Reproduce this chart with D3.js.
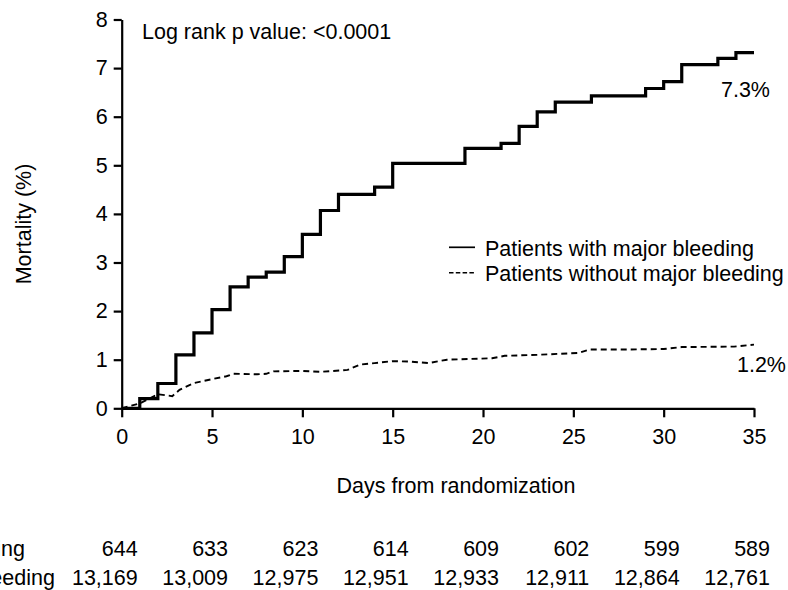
<!DOCTYPE html>
<meta charset="utf-8"/>
<style>
  body { margin: 0; background: #fff; }
  text { font-family: "Liberation Sans", Arial, Helvetica, sans-serif; fill: #000; }
</style>
<svg width="788" height="590"></svg>
<script src="https://cdn.jsdelivr.net/npm/d3@7"></script>
<script>

// data
var bleedDays   = [0, 1, 2, 3, 4, 5, 6, 7, 8, 9, 10, 11, 12, 14, 15, 19, 21, 22, 23, 24, 26, 29, 30, 31, 33, 34, 35]
var bleedMort   = [0, 0.2, 0.51, 1.1, 1.55, 2.03, 2.5, 2.7, 2.8, 3.12, 3.58, 4.07, 4.4, 4.55, 5.04, 5.35, 5.45, 5.8, 6.1, 6.3, 6.43, 6.58, 6.72, 7.07, 7.2, 7.32, 7.32]

var noBleedDays = [0, 1, 2, 2.8, 3.2, 4, 5, 5.8, 6.2, 7.5, 8, 8.4, 10, 11, 12.5, 13.2, 14, 15, 16, 17, 18, 20.5, 21.2, 23, 25.3, 25.9, 28, 30, 31, 33.9, 35]
var noBleedMort = [0, 0.1, 0.29, 0.25, 0.38, 0.52, 0.6, 0.66, 0.71, 0.7, 0.71, 0.76, 0.77, 0.75, 0.79, 0.9, 0.93, 0.97, 0.96, 0.93, 1.0, 1.03, 1.08, 1.1, 1.14, 1.21, 1.21, 1.22, 1.26, 1.27, 1.31]

var riskDays    = [0, 5, 10, 15, 20, 25, 30, 35]
var riskBleed   = ["644", "633", "623", "614", "609", "602", "599", "589"]
var riskNoBleed = ["13,169", "13,009", "12,975", "12,951", "12,933", "12,911", "12,864", "12,761"]
var rowLabels   = ["Patients with major bleeding", "Patients without major bleeding"]

var xTicks = d3.range(0, 36, 5)
var yTicks = d3.range(0, 9, 1)

var svg = d3.select("svg")
var fs = 21.5

var x = d3.scaleLinear().domain([0, 35]).range([121.7, 754])
var y = d3.scaleLinear().domain([0, 8]).range([408.3, 19.5])

// axes
var xAxis = svg.append("g")
    .attr("transform", "translate(0," + y(0) + ")")
    .call(d3.axisBottom(x).tickValues(xTicks).tickSizeInner(9).tickSizeOuter(0).tickPadding(11))
var yAxis = svg.append("g")
    .attr("transform", "translate(" + x(0) + ",0)")
    .call(d3.axisLeft(y).tickValues(yTicks).tickSizeInner(8).tickSizeOuter(0).tickPadding(6))

svg.selectAll(".domain, .tick line").attr("stroke", "#000").attr("stroke-width", 2.2)
svg.selectAll(".tick text")
    .style("font-family", "'Liberation Sans', Arial, sans-serif")
    .style("font-size", fs + "px")
    .attr("fill", "#000")

// curves
var stepLine = d3.line()
    .x(function(d) { return x(d[0]) })
    .y(function(d) { return y(d[1]) })
    .curve(d3.curveStepAfter)
var plainLine = d3.line()
    .x(function(d) { return x(d[0]) })
    .y(function(d) { return y(d[1]) })

svg.append("path")
    .datum(d3.zip(noBleedDays, noBleedMort))
    .attr("d", plainLine)
    .attr("fill", "none")
    .attr("stroke", "#000")
    .attr("stroke-width", 1.9)
    .attr("stroke-dasharray", "6,4")

svg.append("path")
    .datum(d3.zip(bleedDays, bleedMort))
    .attr("d", stepLine)
    .attr("fill", "none")
    .attr("stroke", "#000")
    .attr("stroke-width", 3.2)
    .attr("stroke-linejoin", "miter")

// annotations
svg.append("text").attr("x", 142).attr("y", 39).style("font-size", fs + "px")
    .text("Log rank p value: <0.0001")
svg.append("text").attr("x", 770).attr("y", 97).attr("text-anchor", "end").style("font-size", fs + "px")
    .text(bleedMort[bleedMort.length - 1].toFixed(1) + "%")
svg.append("text").attr("x", 786).attr("y", 372).attr("text-anchor", "end").style("font-size", fs + "px")
    .text("1.2%")

// legend
var legend = svg.append("g")
legend.append("line").attr("x1", 449).attr("x2", 475).attr("y1", 247.3).attr("y2", 247.3)
    .attr("stroke", "#000").attr("stroke-width", 1.7)
legend.append("line").attr("x1", 449).attr("x2", 475).attr("y1", 272.7).attr("y2", 272.7)
    .attr("stroke", "#000").attr("stroke-width", 1.4).attr("stroke-dasharray", "4.5,2.3")
legend.selectAll(".lg").data(rowLabels).enter().append("text")
    .attr("x", 485)
    .attr("y", function(d, i) { return 256 + i * 24.5 })
    .style("font-size", fs + "px")
    .text(function(d) { return d })

// axis titles
svg.append("text")
    .attr("transform", "translate(31,224) rotate(-90)")
    .attr("text-anchor", "middle")
    .style("font-size", fs + "px")
    .text("Mortality (%)")
svg.append("text").attr("x", 456).attr("y", 493).attr("text-anchor", "middle")
    .style("font-size", fs + "px")
    .text("Days from randomization")

// number at risk (row labels run off the left edge, as in the source)
var rows = [riskBleed, riskNoBleed]
var rowY = [556, 585]
var lab0 = svg.append("text").style("font-size", fs + "px").text(rowLabels[0])
var startX = 25 - lab0.node().getComputedTextLength()
lab0.attr("x", startX).attr("y", rowY[0])
svg.append("text").attr("x", startX).attr("y", rowY[1]).style("font-size", fs + "px").text(rowLabels[1])

rows.forEach(function(vals, r) {
  svg.selectAll(".risk" + r).data(vals).enter().append("text")
      .attr("x", function(d, i) { return x(riskDays[i]) + 16 })
      .attr("y", rowY[r])
      .attr("text-anchor", "end")
      .style("font-size", fs + "px")
      .text(function(d) { return d })
})

</script>
